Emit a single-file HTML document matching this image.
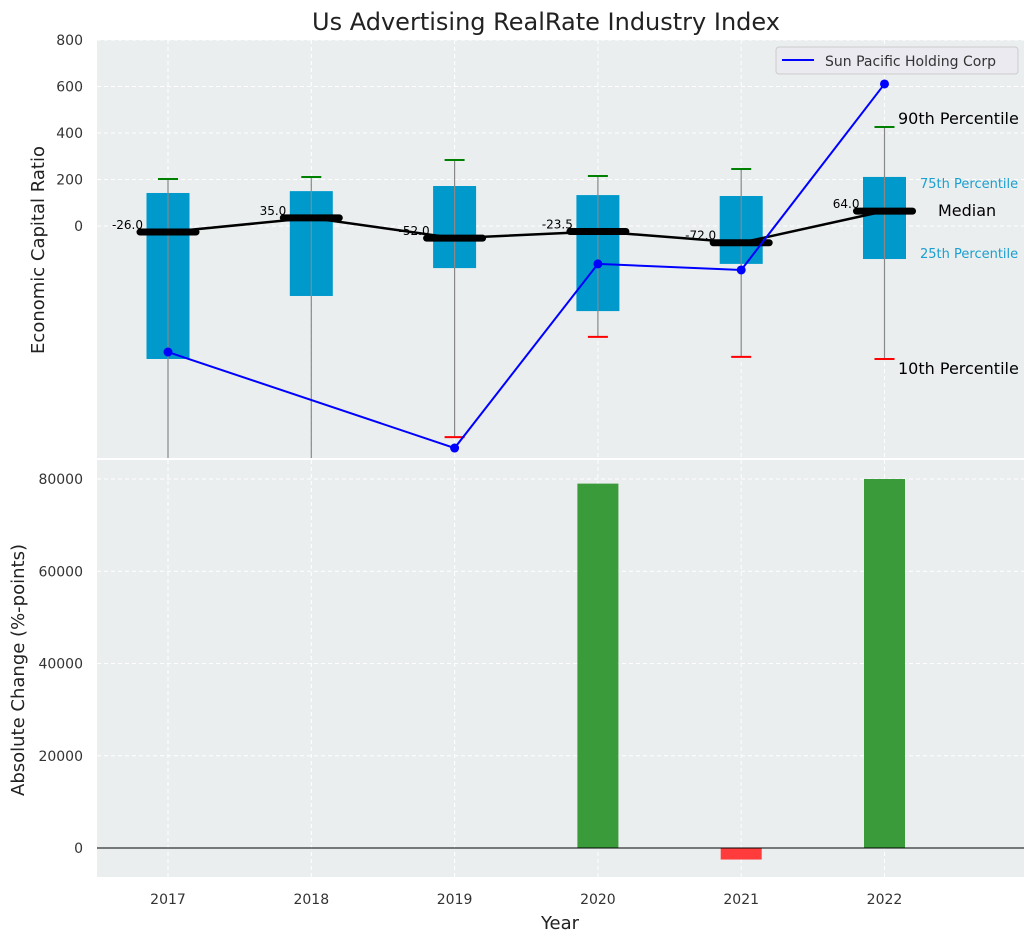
<!DOCTYPE html>
<html><head><meta charset="utf-8"><style>
body{margin:0;background:#fff;font-family:"Liberation Sans","DejaVu Sans",sans-serif}
svg text{font-family:"DejaVu Sans","Liberation Sans",sans-serif}
</style></head><body>
<svg id="c" width="1036" height="942" xmlns="http://www.w3.org/2000/svg">
<text x="546" y="30" font-size="24" text-anchor="middle" fill="#222">Us Advertising RealRate Industry Index</text>
<rect x="97" y="40" width="927" height="418" fill="#eaeeef"/>
<rect x="97" y="460" width="927" height="417" fill="#eaeeef"/>
<g id="topg"></g><g id="botg"></g>
<text x="44" y="250" font-size="18" fill="#222" text-anchor="middle" transform="rotate(-90 44 250)">Economic Capital Ratio</text>
<text x="24" y="670" font-size="18" fill="#222" text-anchor="middle" transform="rotate(-90 24 670)">Absolute Change (%-points)</text>
<text x="560" y="929" font-size="18" fill="#222" text-anchor="middle">Year</text>
<g>
<rect x="776" y="47" width="242" height="27" rx="3" fill="#eaeaf0" stroke="#ccc"/>
<line x1="782" y1="60" x2="814" y2="60" stroke="blue" stroke-width="2"/>
<text x="825" y="66" font-size="14" fill="#333">Sun Pacific Holding Corp</text>
</g>
<text x="898" y="124" font-size="16" fill="#000">90th Percentile</text>
<text x="920" y="188" font-size="13" fill="#1a9fcf">75th Percentile</text>
<text x="938" y="216" font-size="16" fill="#000">Median</text>
<text x="920" y="258" font-size="13" fill="#1a9fcf">25th Percentile</text>
<text x="898" y="374" font-size="16" fill="#000">10th Percentile</text>
</svg>
<script>
var years=[2017,2018,2019,2020,2021,2022];
var q75=[142,150,172,133,129,211];
var q25=[-572,-301,-181,-366,-163,-142];
var p90=[202,211,284,215,245,426];
var p10=[-1100,-1100,-908,-477,-563,-572];
var medians=[-26,35,-52,-23.5,-72,64];
var companyYears=[2017,2019,2020,2021,2022];
var companyVals=[-542,-955,-163,-189,611];
var changeVals=[0,0,0,79000,-2500,80000];
var topTicks=[0,200,400,600,800];
var botTicks=[0,20000,40000,60000,80000];
(function(){
const NS="http://www.w3.org/2000/svg";
const X=y=>168+(y-2017)*143.3;
const YT=v=>226-v*0.2325;
const YB=v=>848-v*0.0046125;
function mk(p,t,a){const e=document.createElementNS(NS,t);for(const k in a)e.setAttribute(k,a[k]);p.appendChild(e);return e;}
const topG=document.getElementById('topg'),botG=document.getElementById('botg');
years.forEach(y=>{
 const g1=mk(topG,'line',{x1:X(y),x2:X(y),y1:40,y2:458,stroke:'#fff','stroke-dasharray':'4,3'});
 
 
 const g2=mk(botG,'line',{x1:X(y),x2:X(y),y1:460,y2:877,stroke:'#fff','stroke-dasharray':'4,3'});
 
 
 const t=mk(botG,'text',{x:X(y),y:904,'font-size':14,fill:'#333','text-anchor':'middle'});t.textContent=y;
 
 
});
topTicks.forEach(v=>{
 const l=mk(topG,'line',{x1:97,x2:1024,y1:YT(v),y2:YT(v),stroke:'#fff','stroke-dasharray':'4,3'});
 
 
 const t=mk(topG,'text',{x:83,y:YT(v)+5,'font-size':14,fill:'#333','text-anchor':'end'});t.textContent=v;
 
 
});
botTicks.forEach(v=>{
 const l=mk(botG,'line',{x1:97,x2:1024,y1:YB(v),y2:YB(v),stroke:'#fff','stroke-dasharray':'4,3'});
 
 
 const t=mk(botG,'text',{x:83,y:YB(v)+5,'font-size':14,fill:'#333','text-anchor':'end'});t.textContent=v;
 
 
});
mk(topG,'defs',{}).innerHTML='<clipPath id="cp"><rect x="97" y="40" width="927" height="418"/></clipPath>';
const tg=mk(topG,'g',{'clip-path':'url(#cp)'});
years.forEach((y,i)=>{
 const x=X(y),hw=21.5;
 const b=mk(tg,'rect',{x:x-hw,y:YT(q75[i]),width:2*hw,height:YT(q25[i])-YT(q75[i]),fill:'#0099cc'});
 
 
 const w=mk(tg,'line',{x1:x,x2:x,y1:YT(p90[i]),y2:YT(p10[i]),stroke:'#888','stroke-width':1.2});
 
 
 const c1=mk(tg,'line',{x1:x-10,x2:x+10,y1:YT(p90[i]),y2:YT(p90[i]),stroke:'green','stroke-width':2});
 
 
 const c2=mk(tg,'line',{x1:x-10,x2:x+10,y1:YT(p10[i]),y2:YT(p10[i]),stroke:'red','stroke-width':2});
 
 
});
const ml=mk(tg,'polyline',{points:years.map((y,i)=>X(y)+','+YT(medians[i])).join(' '),fill:'none',stroke:'#000','stroke-width':2.5});


years.forEach((y,i)=>{
 const x=X(y);
 const m=mk(tg,'line',{x1:x-28,x2:x+28,y1:YT(medians[i]),y2:YT(medians[i]),stroke:'#000','stroke-width':7,'stroke-linecap':'round'});
 
 
 const t=mk(tg,'text',{x:x-25,y:YT(medians[i])-3,'font-size':12,fill:'#000','text-anchor':'end'});t.textContent=medians[i].toFixed(1);
 
 
});
const cl=mk(tg,'polyline',{points:companyYears.map((y,i)=>X(y)+','+YT(companyVals[i])).join(' '),fill:'none',stroke:'blue','stroke-width':2});


companyYears.forEach((y,i)=>{
 const p=mk(tg,'circle',{cx:X(y),cy:YT(companyVals[i]),r:4.5,fill:'blue'});
 
 
});
years.forEach((y,i)=>{
 const v=changeVals[i];if(!v)return;
 const r=mk(botG,'rect',{x:X(y)-20.5,y:Math.min(YB(v),YB(0)),width:41,height:Math.abs(YB(v)-YB(0)),fill:v>0?'#3a9b3a':'#ff3b3b'});
 
 
});
const z=mk(botG,'line',{x1:97,x2:1024,y1:YB(0),y2:YB(0),stroke:'#000','stroke-width':1});


})();
</script>
</body></html>
